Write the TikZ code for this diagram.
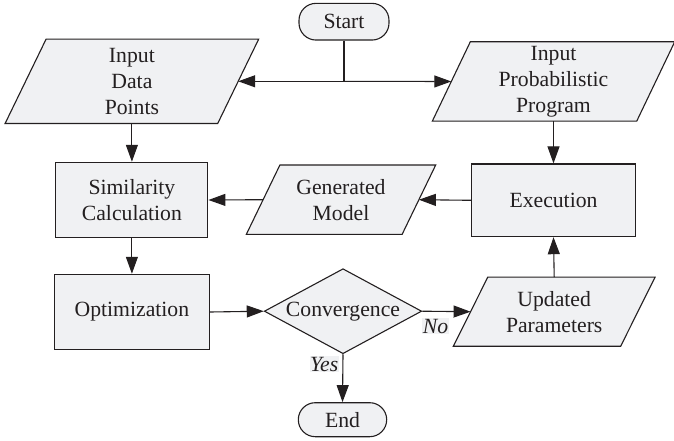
\documentclass[tikz,border=0pt]{standalone}
\usepackage{fontspec}
\setmainfont{Liberation Serif}
\usetikzlibrary{shapes.geometric,arrows.meta,backgrounds,calc}
\definecolor{boxfill}{RGB}{240,241,243}
\definecolor{ink}{RGB}{35,31,32}
\begin{document}
\begin{tikzpicture}[x=1pt,y=-1pt,
  font=\fontsize{21.7}{26}\selectfont,
  lw/.style={line width=1.1pt},
  shapebox/.style={lw, draw=ink, fill=boxfill, align=center, inner sep=0pt, text=ink},
  procbox/.style={shapebox, rectangle},
  termbox/.style={shapebox, rectangle, rounded corners=17pt},
  decbox/.style={shapebox, diamond, aspect=1.85},
  iotext/.style={align=center, inner sep=0pt, text=ink},
  iofill/.style={lw, draw=ink, fill=boxfill},
  conn/.style={lw, draw=ink, -{Triangle[length=17pt,width=12pt]}},
  plain/.style={lw, draw=ink},
  lbl/.style={fill=boxfill, inner sep=0.5pt, text=ink, font=\fontsize{21.7}{26}\selectfont\itshape}
]
\useasboundingbox (0,0) rectangle (674,441);

% nodes
\node[termbox, minimum width=90pt, minimum height=36.7pt] (start) at (344,21.7) {Start};
\node[iotext, minimum width=212.2pt, minimum height=84pt] (idp) at (131.9,81.3) {Input\\Data\\Points};
\node[iotext, minimum width=204pt, minimum height=79pt] (ipp) at (553.5,81.5) {Input\\Probabilistic\\Program};
\node[procbox, minimum width=152pt, minimum height=75.4pt] (sim) at (131.9,200) {Similarity\\Calculation};
\node[iotext, minimum width=155.4pt, minimum height=69pt] (gm) at (341,199.7) {Generated\\Model};
\node[procbox, minimum width=164pt, minimum height=72.7pt] (exe) at (553.5,200.3) {Execution};
\node[procbox, minimum width=155pt, minimum height=75.4pt] (opt) at (131.9,312) {Optimization};
\node[decbox, minimum width=157.4pt, minimum height=85pt] (conv) at (343,311.2) {Convergence};
\node[iotext, minimum width=166.9pt, minimum height=68.7pt] (up) at (554.2,311.7) {Updated\\Parameters};
\node[termbox, minimum width=88.4pt, minimum height=34pt] (end) at (342.5,419.7) {End};

% parallelogram outlines
\begin{pgfonlayer}{background}
\foreach \n/\s in {idp/20.5, ipp/19, gm/16.8, up/17.2}{
  \draw[iofill] ($(\n.south west)+(-\s,0)$) -- ($(\n.south east)+(-\s,0)$)
     -- ($(\n.north east)+(\s,0)$) -- ($(\n.north west)+(\s,0)$) -- cycle;
}
\end{pgfonlayer}

% connectors
\coordinate (j) at (start.south |- idp.center);
\draw[plain] (start.south) -- (j);
\draw[conn] (j) -- (idp.east);
\draw[conn] (j) -- (ipp.west);
\draw[conn] (idp.south) -- (sim.north);
\draw[conn] (ipp.south) -- (exe.north);
\draw[conn] (exe.west) -- (gm.east);
\draw[conn] (gm.west) -- (sim.east);
\draw[conn] (sim.south) -- (opt.north);
\draw[conn] (opt.east) -- (conv.west);
\draw[conn] (conv.east) -- (up.west);
\draw[conn] (up.north) -- (exe.south);
\draw[conn] (conv.south) -- (end.north);

% labels
\node[lbl, anchor=north west] (nolbl) at ($(conv.east)+(0,7)$) {No};
\node[lbl, anchor=north east] (yeslbl) at ($(conv.south)+(-4,2)$) {Yes};
\end{tikzpicture}
\end{document}
